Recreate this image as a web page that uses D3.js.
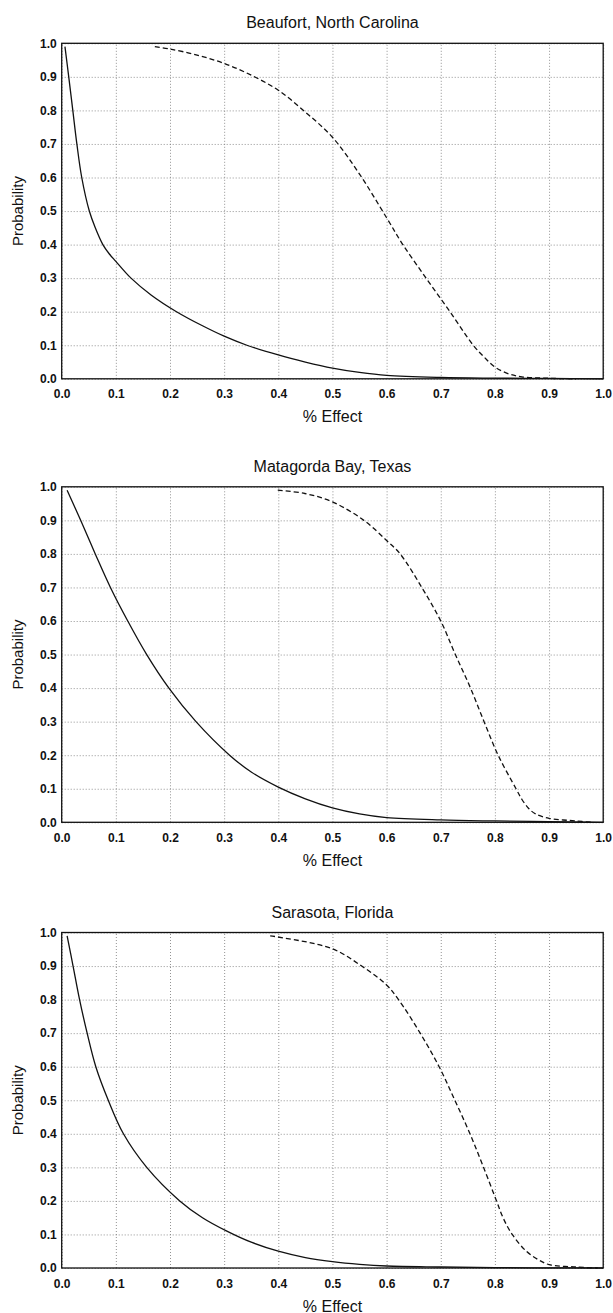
<!DOCTYPE html>
<html>
<head>
<meta charset="utf-8">
<script src="https://cdn.jsdelivr.net/npm/d3@7"></script>
<style>
  body { margin: 0; background: #fff; }
  svg { display: block; font-family: "Liberation Sans", Arial, sans-serif; }
</style>
</head>
<body>
<div id="wrapper"></div>
<script>
// tick values shared by all three panels
const xTicks = [0, 0.1, 0.2, 0.3, 0.4, 0.5, 0.6, 0.7, 0.8, 0.9, 1.0];
const yTicks = [0, 0.1, 0.2, 0.3, 0.4, 0.5, 0.6, 0.7, 0.8, 0.9, 1.0];

const panelTitles = ["Beaufort, North Carolina", "Matagorda Bay, Texas", "Sarasota, Florida"];

// [effect, probability]
const beaufortSolid = [
  [0.006, 0.99], [0.013, 0.9], [0.0205, 0.8], [0.028, 0.7], [0.037, 0.6],
  [0.051, 0.5], [0.062, 0.45], [0.076, 0.4], [0.088, 0.372], [0.1, 0.35],
  [0.128, 0.3], [0.165, 0.25], [0.212, 0.2], [0.26, 0.158], [0.3, 0.127],
  [0.342, 0.1], [0.4, 0.071], [0.45, 0.05], [0.5, 0.032], [0.55, 0.019],
  [0.6, 0.01], [0.7, 0.004], [0.8, 0.002], [0.9, 0.001], [1.0, 0.0]
];
const beaufortDashed = [
  [0.172, 0.99], [0.2, 0.983], [0.25, 0.965], [0.3, 0.94], [0.35, 0.905],
  [0.4, 0.86], [0.45, 0.795], [0.5, 0.72], [0.55, 0.61], [0.6, 0.48],
  [0.63, 0.4], [0.673, 0.3], [0.717, 0.2], [0.76, 0.1], [0.78, 0.065],
  [0.8, 0.035], [0.825, 0.015], [0.85, 0.006], [0.9, 0.0015], [0.95, 0.0]
];

const matagordaSolid = [
  [0.01, 0.99], [0.035, 0.9], [0.062, 0.8], [0.09, 0.7], [0.122, 0.6],
  [0.157, 0.5], [0.198, 0.4], [0.248, 0.3], [0.31, 0.2], [0.35, 0.15],
  [0.4, 0.105], [0.45, 0.07], [0.5, 0.043], [0.55, 0.025], [0.6, 0.014],
  [0.7, 0.007], [0.8, 0.004], [0.9, 0.002], [1.0, 0.0]
];
const matagordaDashed = [
  [0.399, 0.99], [0.449, 0.98], [0.5, 0.955], [0.558, 0.9], [0.6, 0.84],
  [0.625, 0.8], [0.665, 0.7], [0.7, 0.6], [0.727, 0.5], [0.755, 0.4],
  [0.78, 0.3], [0.806, 0.2], [0.839, 0.1], [0.85, 0.068], [0.862, 0.042],
  [0.875, 0.025], [0.9, 0.012], [0.95, 0.004], [0.98, 0.0]
];

const sarasotaSolid = [
  [0.01, 0.99], [0.021, 0.9], [0.033, 0.8], [0.047, 0.7], [0.063, 0.6],
  [0.086, 0.5], [0.114, 0.4], [0.157, 0.3], [0.218, 0.2], [0.26, 0.15],
  [0.305, 0.11], [0.35, 0.077], [0.4, 0.05], [0.45, 0.031], [0.5, 0.019],
  [0.55, 0.011], [0.6, 0.006], [0.7, 0.003], [0.8, 0.001], [0.9, 0.0005], [1.0, 0.0]
];
const sarasotaDashed = [
  [0.385, 0.99], [0.398, 0.987], [0.499, 0.952], [0.554, 0.9], [0.599, 0.845],
  [0.622, 0.8], [0.662, 0.7], [0.697, 0.6], [0.726, 0.5], [0.754, 0.4],
  [0.779, 0.3], [0.803, 0.2], [0.815, 0.15], [0.832, 0.1], [0.858, 0.05],
  [0.88, 0.025], [0.9, 0.01], [0.95, 0.003], [0.99, 0.0]
];

const panelSolid = [beaufortSolid, matagordaSolid, sarasotaSolid];
const panelDashed = [beaufortDashed, matagordaDashed, sarasotaDashed];

function drawCharts() {
  const width = 613;
  const height = 1313;

  const dimensions = {
    left: 61.7,
    right: 603.2,
    plotHeight: 335.5,
    tops: [43.3, 486.8, 932.5],
  };

  const svg = d3
    .select("#wrapper")
    .append("svg")
    .attr("width", width)
    .attr("height", height);

  const xScale = d3
    .scaleLinear()
    .domain([0, 1])
    .range([dimensions.left, dimensions.right]);

  panelTitles.forEach((title, i) => {
    const top = dimensions.tops[i];
    const bottom = top + dimensions.plotHeight;

    const yScale = d3.scaleLinear().domain([0, 1]).range([bottom, top]);

    const g = svg.append("g");

    // dotted grid
    g.append("g")
      .attr("transform", `translate(0, ${bottom})`)
      .call(d3.axisBottom(xScale).tickValues(xTicks).tickSize(-dimensions.plotHeight).tickFormat(""))
      .call((a) => a.select(".domain").remove())
      .selectAll("line")
      .attr("stroke", "#777")
      .attr("stroke-width", 0.8)
      .attr("stroke-dasharray", "1,2");

    g.append("g")
      .attr("transform", `translate(${dimensions.left}, 0)`)
      .call(d3.axisLeft(yScale).tickValues(yTicks).tickSize(-(dimensions.right - dimensions.left)).tickFormat(""))
      .call((a) => a.select(".domain").remove())
      .selectAll("line")
      .attr("stroke", "#777")
      .attr("stroke-width", 0.8)
      .attr("stroke-dasharray", "1,2");

    // frame
    g.append("rect")
      .attr("x", dimensions.left)
      .attr("y", top)
      .attr("width", dimensions.right - dimensions.left)
      .attr("height", dimensions.plotHeight)
      .attr("fill", "none")
      .attr("stroke", "#111")
      .attr("stroke-width", 1.3);

    // tick labels
    const xAxis = g.append("g")
      .attr("transform", `translate(0, ${bottom})`)
      .call(d3.axisBottom(xScale).tickValues(xTicks).tickSize(0).tickPadding(11).tickFormat(d3.format(".1f")));
    xAxis.select(".domain").remove();
    xAxis.selectAll("text")
      .attr("fill", "#111")
      .style("font-size", "12px")
      .style("font-weight", "bold")
      .style("font-family", "Liberation Sans, Arial, sans-serif");

    const yAxis = g.append("g")
      .attr("transform", `translate(${dimensions.left}, 0)`)
      .call(d3.axisLeft(yScale).tickValues(yTicks).tickSize(0).tickPadding(5).tickFormat(d3.format(".1f")));
    yAxis.select(".domain").remove();
    yAxis.selectAll("text")
      .attr("fill", "#111")
      .style("font-size", "12px")
      .style("font-weight", "bold")
      .style("font-family", "Liberation Sans, Arial, sans-serif");

    // curves
    const line = d3
      .line()
      .x((d) => xScale(d[0]))
      .y((d) => yScale(d[1]))
      .curve(d3.curveCatmullRom.alpha(0.5));

    g.append("path")
      .datum(panelSolid[i])
      .attr("d", line)
      .attr("fill", "none")
      .attr("stroke", "#111")
      .attr("stroke-width", 1.3);

    g.append("path")
      .datum(panelDashed[i])
      .attr("d", line)
      .attr("fill", "none")
      .attr("stroke", "#111")
      .attr("stroke-width", 1.3)
      .attr("stroke-dasharray", "5,3");

    // labels
    const centerX = (dimensions.left + dimensions.right) / 2;
    g.append("text")
      .attr("x", centerX)
      .attr("y", top - 15)
      .attr("text-anchor", "middle")
      .attr("fill", "#111")
      .style("font-size", "16px")
      .text(title);

    g.append("text")
      .attr("x", centerX)
      .attr("y", bottom + 43.5)
      .attr("text-anchor", "middle")
      .attr("fill", "#111")
      .style("font-size", "16px")
      .text("% Effect");

    g.append("text")
      .attr("transform", `translate(23, ${(top + bottom) / 2}) rotate(-90)`)
      .attr("text-anchor", "middle")
      .attr("fill", "#111")
      .style("font-size", "15px")
      .text("Probability");
  });
}

drawCharts();
</script>
</body>
</html>
